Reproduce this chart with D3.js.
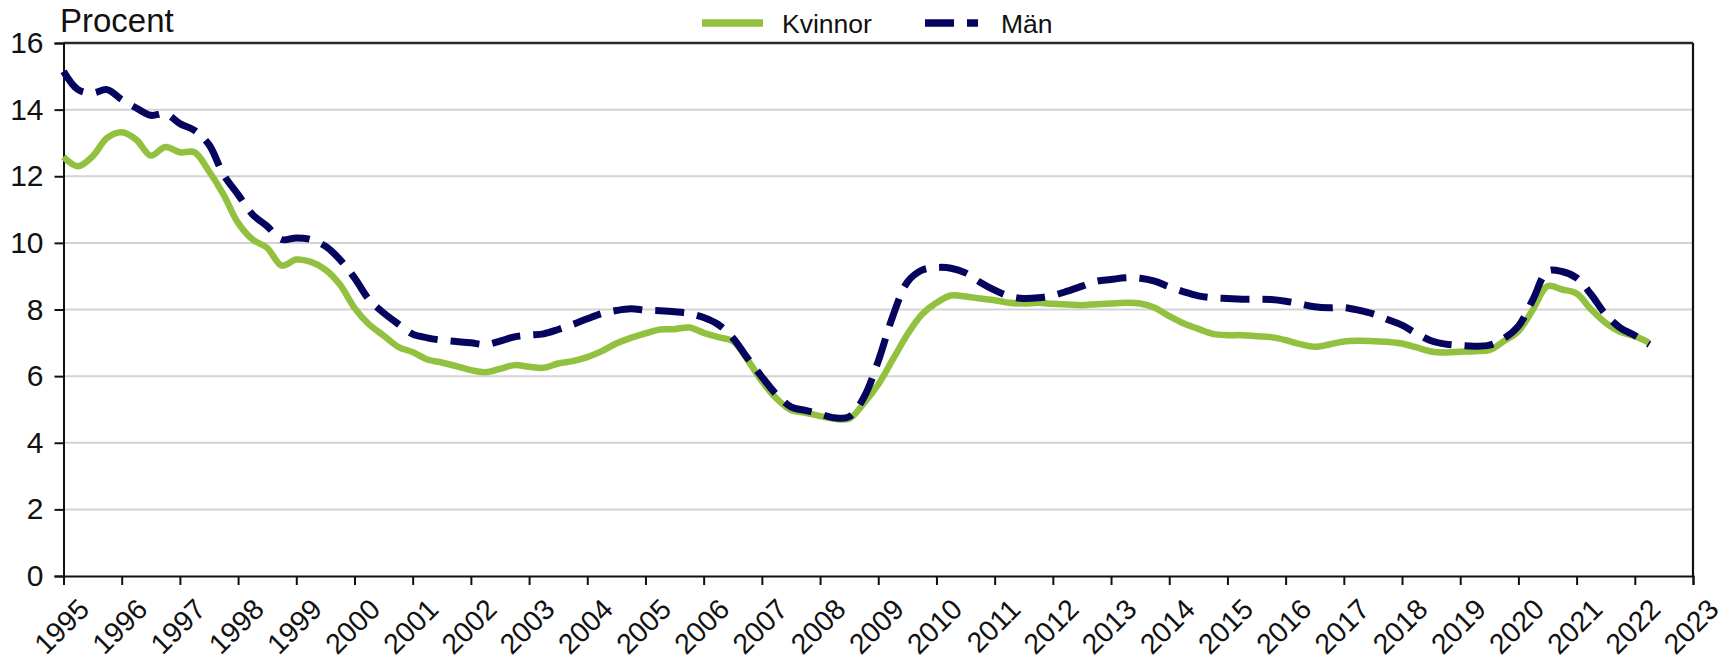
<!DOCTYPE html>
<html>
<head>
<meta charset="utf-8">
<script src="https://cdn.jsdelivr.net/npm/d3@7"></script>
<style>
  html, body { margin: 0; padding: 0; background: #fff; }
  svg { display: block; font-family: "Liberation Sans", Arial, sans-serif; }
</style>
</head>
<body>
<svg id="chart" width="1732" height="664"></svg>
<script>
// ---- Data (quarterly, 1995Q1 .. 2022Q2) ----
const startYear = 1995;
const quarterStep = 0.25;

const kvinnor = [
  12.58, 12.30, 12.60, 13.15,  13.32, 13.10, 12.62, 12.88,  12.72, 12.72, 12.15, 11.45,
  10.60, 10.10, 9.85, 9.32,    9.50, 9.43, 9.20, 8.75,      8.05, 7.55, 7.22, 6.88,
  6.72, 6.50, 6.41, 6.30,      6.18, 6.12, 6.22, 6.33,      6.28, 6.25, 6.38, 6.45,
  6.57, 6.75, 6.98, 7.15,      7.28, 7.40, 7.41, 7.46,      7.30, 7.17, 7.05, 6.50,
  5.85, 5.33, 4.98, 4.90,      4.80, 4.72, 4.72, 5.18,      5.75, 6.50, 7.25, 7.85,
  8.20, 8.42, 8.39, 8.33,      8.28, 8.20, 8.18, 8.20,      8.17, 8.15, 8.13, 8.16,
  8.18, 8.20, 8.18, 8.05,      7.80, 7.58, 7.42, 7.27,      7.23, 7.23, 7.20, 7.17,
  7.08, 6.96, 6.88, 6.95,      7.04, 7.06, 7.05, 7.03,      6.98, 6.86, 6.74, 6.71,
  6.73, 6.75, 6.78, 7.05,      7.35, 8.00, 8.70, 8.60,      8.48, 8.00, 7.60, 7.33,
  7.20, 7.00
];

const man = [
  15.15, 14.60, 14.50, 14.60,  14.30, 14.05, 13.83, 13.88,  13.58, 13.38, 12.95, 12.05,
  11.45, 10.85, 10.50, 10.10,  10.15, 10.10, 9.90, 9.50,    8.95, 8.30, 7.90, 7.57,
  7.26, 7.15, 7.08, 7.04,      7.00, 6.95, 7.05, 7.18,      7.23, 7.27, 7.40, 7.55,
  7.72, 7.88, 7.97, 8.02,      7.98, 7.96, 7.93, 7.88,      7.76, 7.55, 7.15, 6.55,
  5.98, 5.45, 5.08, 4.97,      4.86, 4.75, 4.78, 5.35,      6.45, 7.80, 8.82, 9.18,
  9.26, 9.24, 9.10, 8.82,      8.58, 8.40, 8.33, 8.35,      8.42, 8.55, 8.70, 8.85,
  8.90, 8.95, 8.94, 8.85,      8.68, 8.53, 8.41, 8.35,      8.33, 8.31, 8.31, 8.30,
  8.25, 8.17, 8.08, 8.05,      8.06, 7.98, 7.87, 7.70,      7.53, 7.28, 7.06, 6.96,
  6.92, 6.90, 6.93, 7.13,      7.50, 8.30, 9.15, 9.14,      8.95, 8.45, 7.85, 7.45,
  7.22, 6.95
];

const yearTicks = d3.range(1995, 2024);
const yTicks = [0, 2, 4, 6, 8, 10, 12, 14, 16];
const seriesNames = ["Kvinnor", "Män"];
const yTitle = "Procent";

// ---- Layout ----
const plotLeft = 63.5, plotRight = 1693, plotTop = 43, plotBottom = 576;
const colors = { Kvinnor: "#92c13f", "Män": "#05055e" };
const fontFam = "'Liberation Sans', Arial, sans-serif";

const svg = d3.select("#chart");
const x = d3.scaleLinear().domain([1995, 2023]).range([plotLeft, plotRight]);
const y = d3.scaleLinear().domain([0, 16]).range([plotBottom, plotTop]);

// gridlines
svg.append("g")
  .selectAll("line")
  .data(yTicks.filter(d => d > 0 && d < 16))
  .join("line")
  .attr("x1", plotLeft).attr("x2", plotRight)
  .attr("y1", d => y(d)).attr("y2", d => y(d))
  .attr("stroke", "#d3d3d3").attr("stroke-width", 2);

// frame top & right
svg.append("line").attr("x1", plotLeft).attr("x2", plotRight).attr("y1", plotTop).attr("y2", plotTop)
  .attr("stroke", "#2a2a2a").attr("stroke-width", 2.5);
svg.append("line").attr("x1", plotRight).attr("x2", plotRight).attr("y1", plotTop).attr("y2", plotBottom)
  .attr("stroke", "#111").attr("stroke-width", 2.2);

// y axis
const yAxis = d3.axisLeft(y).tickValues(yTicks).tickSize(9).tickPadding(11).tickFormat(d3.format("d"));
const gy = svg.append("g").attr("transform", `translate(${plotLeft},0)`).call(yAxis);
gy.select(".domain").attr("stroke", "#111").attr("stroke-width", 2);
gy.selectAll(".tick line").attr("stroke", "#111").attr("stroke-width", 2);
gy.selectAll(".tick text").attr("font-size", 30).attr("fill", "#111")
  .attr("font-family", fontFam);

// x axis
const xAxis = d3.axisBottom(x).tickValues(yearTicks).tickSize(9).tickFormat(d3.format("d"));
const gx = svg.append("g").attr("transform", `translate(0,${plotBottom})`).call(xAxis);
gx.select(".domain").attr("stroke", "#111").attr("stroke-width", 2);
gx.selectAll(".tick line").attr("stroke", "#111").attr("stroke-width", 2);
gx.selectAll(".tick text")
  .attr("font-size", 28.5).attr("fill", "#111")
  .attr("font-family", fontFam)
  .attr("text-anchor", "end")
  .attr("dy", null).attr("y", null)
  .attr("transform", "translate(27,35) rotate(-45)");

// lines
const line = d3.line()
  .x((d, i) => x(startYear + i * quarterStep))
  .y(d => y(d))
  .curve(d3.curveCatmullRom.alpha(0.5));

svg.append("path").datum(kvinnor)
  .attr("d", line).attr("fill", "none")
  .attr("stroke", colors.Kvinnor).attr("stroke-width", 6.5)
  .attr("stroke-linejoin", "round");

svg.append("path").datum(man)
  .attr("d", line).attr("fill", "none")
  .attr("stroke", colors["Män"]).attr("stroke-width", 7)
  .attr("stroke-dasharray", "29,13")
  .attr("stroke-linejoin", "round");

// y title
svg.append("text").attr("x", 60).attr("y", 32)
  .attr("font-size", 33).attr("fill", "#111").text(yTitle);

// legend
const lg = svg.append("g");
lg.append("line").attr("x1", 702).attr("x2", 763).attr("y1", 23).attr("y2", 23)
  .attr("stroke", colors.Kvinnor).attr("stroke-width", 7.5);
lg.append("text").attr("x", 782).attr("y", 33).attr("font-size", 26.5).attr("fill", "#111").text(seriesNames[0]);
lg.append("line").attr("x1", 925).attr("x2", 978).attr("y1", 23).attr("y2", 23)
  .attr("stroke", colors["Män"]).attr("stroke-width", 7.5).attr("stroke-dasharray", "29,13");
lg.append("text").attr("x", 1001).attr("y", 33).attr("font-size", 26.5).attr("fill", "#111").text(seriesNames[1]);
</script>
</body>
</html>
